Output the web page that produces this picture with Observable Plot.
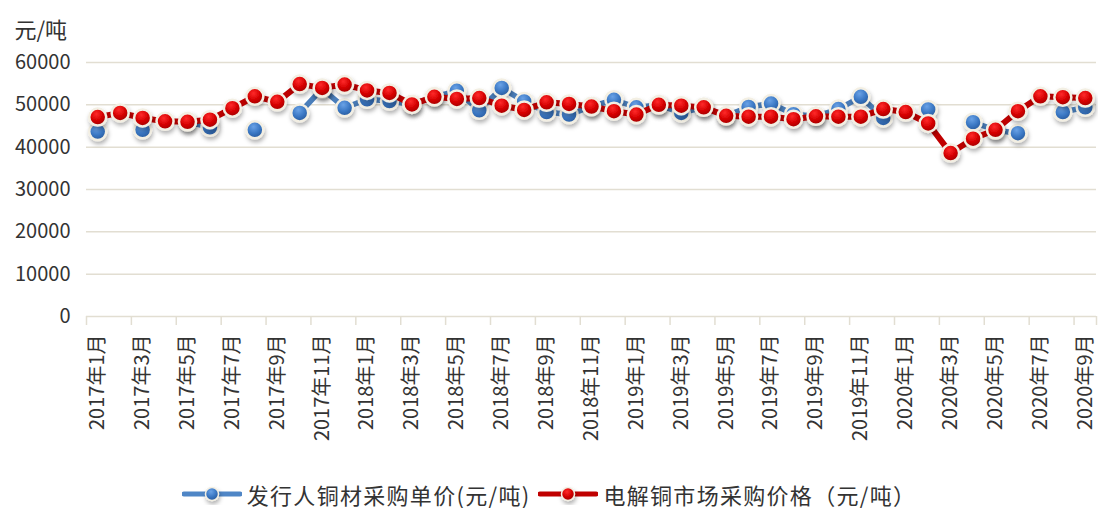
<!DOCTYPE html>
<html><head><meta charset="utf-8">
<script src="https://cdn.jsdelivr.net/npm/d3@7"></script>
<script src="https://cdn.jsdelivr.net/npm/@observablehq/plot@0.6"></script>
<style>
html,body{margin:0;background:#fff;font-family:"Noto Sans CJK SC","Noto Sans",sans-serif;overflow:hidden}
#chart{height:460px;overflow:hidden}
#legend{display:flex;justify-content:center;align-items:center;box-sizing:border-box;height:48px;padding-top:20px;line-height:28px;font-size:22px;letter-spacing:1.3px;color:#333}
.item{display:flex;align-items:center;height:28px;margin:0 4px}
.item svg{margin-right:5px}
</style></head><body>
<svg width="0" height="0" style="position:absolute">
<defs>
<radialGradient id="gRed" cx="42%" cy="32%" r="70%"><stop offset="0" stop-color="#ff2a2a"/><stop offset="0.55" stop-color="#d40000"/><stop offset="1" stop-color="#9c0000"/></radialGradient>
<radialGradient id="gBlue" cx="42%" cy="32%" r="70%"><stop offset="0" stop-color="#6aa2e6"/><stop offset="0.55" stop-color="#3b78c4"/><stop offset="1" stop-color="#27589a"/></radialGradient>
<filter id="shadow" x="-60%" y="-60%" width="220%" height="220%"><feDropShadow dx="1" dy="3" stdDeviation="2" flood-color="#000" flood-opacity="0.3"/></filter>
</defs></svg>
<div id="chart"></div>
<div id="legend"></div>
<script>
const months = ["2017年1月","2017年2月","2017年3月","2017年4月","2017年5月","2017年6月","2017年7月","2017年8月","2017年9月","2017年10月","2017年11月","2017年12月",
"2018年1月","2018年2月","2018年3月","2018年4月","2018年5月","2018年6月","2018年7月","2018年8月","2018年9月","2018年10月","2018年11月","2018年12月",
"2019年1月","2019年2月","2019年3月","2019年4月","2019年5月","2019年6月","2019年7月","2019年8月","2019年9月","2019年10月","2019年11月","2019年12月",
"2020年1月","2020年2月","2020年3月","2020年4月","2020年5月","2020年6月","2020年7月","2020年8月","2020年9月"];
const issuerPrice = [43700,null,44100,null,46000,44700,null,44100,null,48100,53800,49300,
51300,50900,50100,51900,53300,48700,54000,50800,48300,47700,49600,51200,
49400,50000,48100,49400,47400,49500,50300,47800,47300,49000,51900,46900,
null,48900,null,45900,44000,43300,null,48300,49400];
const marketPrice = [47100,48100,46900,46100,46000,46500,49200,52000,50700,54900,54000,54800,
53400,52800,50100,51900,51400,51600,49800,48800,50600,50200,49600,48500,
47700,50000,49800,49400,47400,47200,47200,46600,47300,47200,47200,49000,
48300,45600,38600,42000,44100,48500,52000,51800,51600];
const yTicks = [0,10000,20000,30000,40000,50000,60000];
const seriesNames = ["发行人铜材采购单价(元/吨)","电解铜市场采购价格（元/吨）"];
const unitLabel = "元/吨";

const idx = months.map((d,i)=>i);
const labelIdx = idx.filter(i=>i%2===0);
const boundaries = idx.filter(i=>i%2===0).map(i=>i-0.5).concat([months.length-0.5]);
const grid = "#e2ded2";

const plot = Plot.plot({
  width:1098, height:460,
  marginLeft:86, marginRight:2, marginTop:62, marginBottom:144,
  style:{fontFamily:'"Noto Sans CJK SC","Noto Sans",sans-serif', fontSize:"20px", color:"#333", background:"#fff"},
  x:{type:"linear", domain:[-0.5, months.length-0.5], axis:null},
  y:{domain:[0,60000], axis:null},
  marks:[
    Plot.gridY(yTicks.filter(d=>d>0), {stroke:grid, strokeOpacity:1, strokeWidth:1.5}),
    Plot.ruleY([0], {stroke:grid, strokeWidth:1.5}),
    Plot.axisY({ticks:yTicks, tickSize:0, tickPadding:16, tickFormat:d=>String(d), label:null, fontSize:20}),
    Plot.axisX({ticks:boundaries, tickSize:9, tickFormat:()=>"", stroke:grid, strokeWidth:1.5, label:null}),
    Plot.axisX({ticks:labelIdx, tickSize:0, tickPadding:18, tickRotate:-90, tickFormat:i=>months[i], label:null, fontSize:20}),
    Plot.text([unitLabel], {frameAnchor:"top-left", dx:-72, dy:-40, textAnchor:"start", fontSize:22, fill:"#333"}),
    Plot.line(idx, {x:d=>d, y:i=>issuerPrice[i], stroke:"#4a7ebb", strokeWidth:5.5}),
    Plot.dot(idx, {x:d=>d, y:i=>issuerPrice[i], r:8.5, fill:"url(#gBlue)", stroke:"#f3efe3", strokeWidth:2.5}),
    Plot.line(idx, {x:d=>d, y:i=>marketPrice[i], stroke:"#c00000", strokeWidth:6}),
    Plot.dot(idx, {x:d=>d, y:i=>marketPrice[i], r:8.5, fill:"url(#gRed)", stroke:"#f3efe3", strokeWidth:2.5})
  ]
});
plot.querySelectorAll('g[aria-label="dot"]').forEach(g=>g.setAttribute("filter","url(#shadow)"));
document.getElementById("chart").appendChild(plot);

const legend = document.getElementById("legend");
const cfg = [{line:"#4f86c6", fill:"url(#gBlue)"},{line:"#c00000", fill:"url(#gRed)"}];
seriesNames.forEach((name,k)=>{
  const item = document.createElement("div");
  item.className="item";
  item.innerHTML = `<svg width="60" height="22"><line x1="2" x2="58" y1="11" y2="11" stroke="${cfg[k].line}" stroke-width="5" stroke-linecap="round"/><circle cx="30" cy="11" r="6.5" fill="${cfg[k].fill}" stroke="#f3efe3" stroke-width="1.5" filter="url(#shadow)"/></svg><span>${name}</span>`;
  legend.appendChild(item);
});
</script>
</body></html>
